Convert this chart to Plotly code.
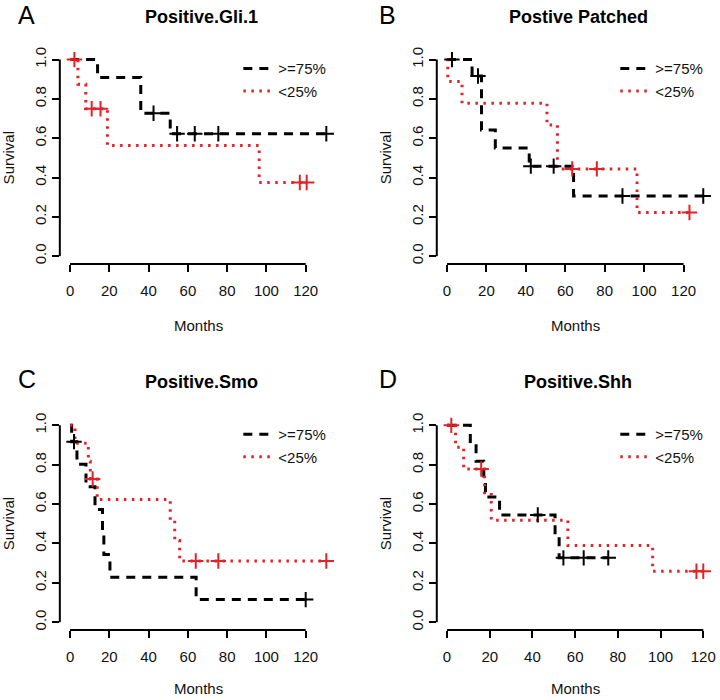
import plotly.graph_objects as go

# ---------------- data ----------------
panel_titles = ["Positive.Gli.1", "Postive Patched", "Positive.Smo", "Positive.Shh"]
panel_letters = ["A", "B", "C", "D"]
series_names = [">=75%", "<25%"]
x_ticks = [0, 20, 40, 60, 80, 100, 120]
y_ticks = [0.0, 0.2, 0.4, 0.6, 0.8, 1.0]
y_tick_text = ["0.0", "0.2", "0.4", "0.6", "0.8", "1.0"]

# Panel A
A_hi_t = [0, 14, 36, 51, 130.5]
A_hi_s = [1.0, 0.909, 0.727, 0.623, 0.623]
A_hi_cens_t = [42.5, 54.5, 63.5, 75.5, 130.5]
A_hi_cens_s = [0.727, 0.623, 0.623, 0.623, 0.623]
A_lo_t = [0, 4, 8, 19, 96.3, 120.5]
A_lo_s = [1.0, 0.875, 0.75, 0.5625, 0.375, 0.375]
A_lo_cens_t = [2.2, 11, 15.5, 117, 120.5]
A_lo_cens_s = [1.0, 0.75, 0.75, 0.375, 0.375]

# Panel B
B_hi_t = [0, 12.7, 17.5, 24.5, 41.7, 64.2, 130]
B_hi_s = [1.0, 0.917, 0.642, 0.550, 0.458, 0.306, 0.306]
B_hi_cens_t = [2.5, 15.7, 42.5, 54.1, 89, 130]
B_hi_cens_s = [1.0, 0.917, 0.458, 0.458, 0.306, 0.306]
B_lo_t = [0, 0.4, 7.6, 50.7, 56, 96.4, 123]
B_lo_s = [1.0, 0.889, 0.778, 0.667, 0.444, 0.222, 0.222]
B_lo_cens_t = [63.5, 76, 123]
B_lo_cens_s = [0.444, 0.444, 0.222]

# Panel C
C_hi_t = [0, 0.8, 3.5, 8.1, 12.7, 16.5, 17.2, 20.3, 64.2, 120]
C_hi_s = [1.0, 0.917, 0.802, 0.688, 0.573, 0.458, 0.344, 0.229, 0.115, 0.115]
C_hi_cens_t = [2.0, 120]
C_hi_cens_s = [0.917, 0.115]
C_lo_t = [0, 2.5, 9.3, 10.3, 13.8, 51.0, 53.3, 55.8, 130.5]
C_lo_s = [1.0, 0.909, 0.818, 0.727, 0.623, 0.519, 0.415, 0.311, 0.311]
C_lo_cens_t = [11.5, 64, 75.5, 130.5]
C_lo_cens_s = [0.727, 0.311, 0.311, 0.311]

# Panel D
D_hi_t = [0, 10.9, 13.6, 17.2, 18.0, 24.6, 50.6, 52.5, 75.5]
D_hi_s = [1.0, 0.909, 0.818, 0.727, 0.636, 0.545, 0.436, 0.327, 0.327]
D_hi_cens_t = [42.5, 54.5, 64, 75.5]
D_hi_cens_s = [0.545, 0.327, 0.327, 0.327]
D_lo_t = [0, 4.0, 7.8, 17.6, 20.7, 56.6, 96.3, 120]
D_lo_s = [1.0, 0.889, 0.778, 0.648, 0.518, 0.389, 0.259, 0.259]
D_lo_cens_t = [2.0, 16.0, 116.8, 120]
D_lo_cens_s = [1.0, 0.778, 0.259, 0.259]

panels = [
    (A_hi_t, A_hi_s, A_hi_cens_t, A_hi_cens_s, A_lo_t, A_lo_s, A_lo_cens_t, A_lo_cens_s),
    (B_hi_t, B_hi_s, B_hi_cens_t, B_hi_cens_s, B_lo_t, B_lo_s, B_lo_cens_t, B_lo_cens_s),
    (C_hi_t, C_hi_s, C_hi_cens_t, C_hi_cens_s, C_lo_t, C_lo_s, C_lo_cens_t, C_lo_cens_s),
    (D_hi_t, D_hi_s, D_hi_cens_t, D_hi_cens_s, D_lo_t, D_lo_s, D_lo_cens_t, D_lo_cens_s),
]

# ---------------- layout / style ----------------
W, H = 720, 700
FONT = "Liberation Sans, Arial, Helvetica, sans-serif"
BLACK = "#000000"
RED = "#e32126"

# positions in page pixels (as measured on the reference)
col_x = [(60.0, 337.5), (438.0, 715.5)]
row_y = [(47.1, 260.9), (415.4, 629.6)]
title_y = [12.5, 379.5]
letter_y = [10.5, 377]
letter_x = [27, 389]


def px(xp):
    return xp / W


def py(yp):
    return 1 - yp / H


fig = go.Figure()
layout = dict(
    width=W, height=H,
    margin=dict(l=0, r=0, t=0, b=0),
    paper_bgcolor="white", plot_bgcolor="white",
    font=dict(family=FONT, color="black", size=14),
    annotations=[], shapes=[],
)

for i, p in enumerate(panels):
    hi_t, hi_s, hi_ct, hi_cs, lo_t, lo_s, lo_ct, lo_cs = p
    r, c = divmod(i, 2)
    k = "" if i == 0 else str(i + 1)
    xa, ya = "x" + k, "y" + k
    leg = "legend" + k
    x0p, x1p = col_x[c]
    ytop, ybot = row_y[r]
    xmax = max(hi_t + lo_t + hi_ct + lo_ct)

    fig.add_trace(go.Scatter(
        x=hi_t, y=hi_s, mode="lines", line_shape="hv", name=series_names[0],
        line=dict(color=BLACK, width=3, dash="9px,7px"),
        xaxis=xa, yaxis=ya, legend=leg, hoverinfo="skip"))
    fig.add_trace(go.Scatter(
        x=lo_t, y=lo_s, mode="lines", line_shape="hv", name=series_names[1],
        line=dict(color=RED, width=3, dash="2.5px,5.5px"),
        xaxis=xa, yaxis=ya, legend=leg, hoverinfo="skip"))
    fig.add_trace(go.Scatter(
        x=hi_ct, y=hi_cs, mode="markers", showlegend=False,
        marker=dict(symbol="cross-thin", size=11, line=dict(color=BLACK, width=2)),
        xaxis=xa, yaxis=ya, hoverinfo="skip"))
    fig.add_trace(go.Scatter(
        x=lo_ct, y=lo_cs, mode="markers", showlegend=False,
        marker=dict(symbol="cross-thin", size=11, line=dict(color=RED, width=2)),
        xaxis=xa, yaxis=ya, hoverinfo="skip"))

    layout["xaxis" + k] = dict(
        domain=[px(x0p), px(x1p)], anchor=ya,
        range=[-0.04 * xmax, 1.04 * xmax],
        tickvals=x_ticks, ticks="outside", ticklen=7, tickwidth=2, tickcolor="black",
        ticklabelstandoff=6,
        showline=False, showgrid=False, zeroline=False,
        tickfont=dict(size=15, color="#111111"),
    )
    layout["yaxis" + k] = dict(
        domain=[py(ybot), py(ytop)], anchor=xa,
        range=[-0.04, 1.04],
        tickvals=y_ticks, ticktext=y_tick_text, tickangle=-90,
        ticks="outside", ticklen=7, tickwidth=2, tickcolor="black",
        showline=False, showgrid=False, zeroline=False,
        tickfont=dict(size=15, color="#111111"),
    )
    # R-style axis lines spanning only the tick range
    layout["shapes"].append(dict(
        type="line", xref=xa, yref=ya + " domain",
        x0=min(x_ticks), x1=max(x_ticks), y0=0, y1=0,
        line=dict(color="black", width=2)))
    layout["shapes"].append(dict(
        type="line", xref=xa + " domain", yref=ya,
        x0=0, x1=0, y0=min(y_ticks), y1=max(y_ticks),
        line=dict(color="black", width=2)))

    layout[leg] = dict(
        x=px(x0p + 179), y=py(ytop + 0.5), xanchor="left", yanchor="top",
        bgcolor="rgba(0,0,0,0)", borderwidth=0,
        font=dict(size=15, family=FONT, color="#111111"),
        tracegroupgap=0, itemwidth=30,
    )

    cx = (x0p + x1p) / 2
    months_y = min(ybot + 62, H - 11.5)   # keep the label box inside the page
    layout["annotations"] += [
        dict(text="<b>%s</b>" % panel_titles[i], xref="paper", yref="paper",
             x=px(cx + 3), y=py(title_y[r]), showarrow=False,
             font=dict(size=18, family=FONT, color="black"),
             xanchor="center", yanchor="middle"),
        dict(text=panel_letters[i], xref="paper", yref="paper",
             x=px(letter_x[c]), y=py(letter_y[r]), showarrow=False,
             font=dict(size=25, family=FONT, color="black"),
             xanchor="center", yanchor="middle"),
        dict(text="Survival", xref="paper", yref="paper",
             x=px(x0p - 51.5), y=py((ytop + ybot) / 2), showarrow=False,
             textangle=-90, font=dict(size=15, family=FONT, color="#111111"),
             xanchor="center", yanchor="middle"),
        dict(text="Months", xref="paper", yref="paper",
             x=px(cx), y=py(months_y), showarrow=False,
             font=dict(size=15, family=FONT, color="#111111"),
             xanchor="center", yanchor="middle"),
    ]

fig.update_layout(**layout)
fig.write_html(
    "out.html",
    config={"displayModeBar": False},
    post_script="document.body.style.margin='0';document.body.style.overflow='hidden';",
)
